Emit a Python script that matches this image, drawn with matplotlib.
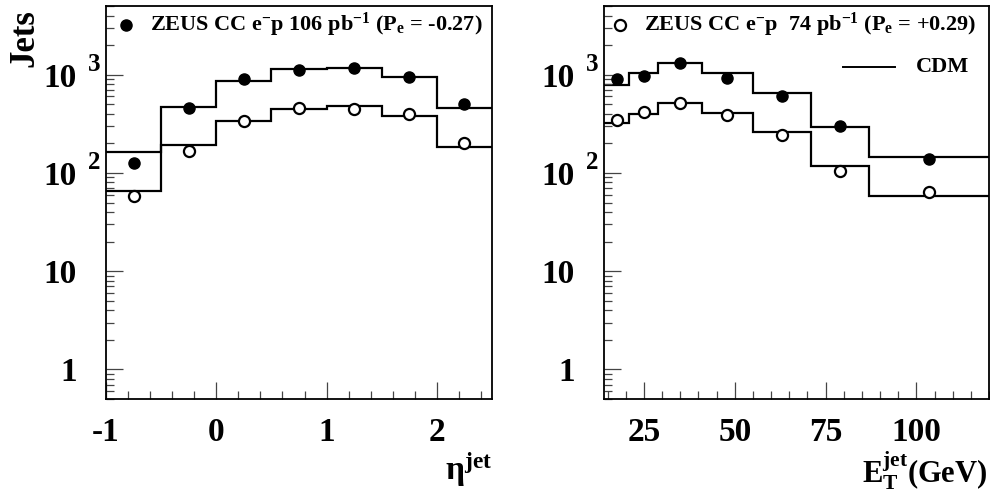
import matplotlib
matplotlib.use('Agg')
import matplotlib.pyplot as plt
import matplotlib.transforms as mtransforms
from matplotlib.ticker import MultipleLocator, LogLocator, NullFormatter, FixedLocator
import numpy as np

plt.rcParams['font.family'] = ['Liberation Serif', 'DejaVu Serif']
plt.rcParams['font.weight'] = 'bold'
plt.rcParams['mathtext.fontset'] = 'custom'
plt.rcParams['mathtext.rm'] = 'Liberation Serif'
plt.rcParams['mathtext.bf'] = 'Liberation Serif:bold'
plt.rcParams['mathtext.it'] = 'Liberation Serif:italic'
plt.rcParams['mathtext.default'] = 'bf'

# ---------- data: eta^jet
eta_edges = [-1.0, -0.5, 0.0, 0.5, 1.0, 1.5, 2.0, 2.5]
eta_centers = [-0.75, -0.25, 0.25, 0.75, 1.25, 1.75, 2.25]
eta_em_data = [125, 463, 912, 1127, 1181, 955, 508]      # P = -0.27 (filled)
eta_ep_data = [58, 169, 334, 459, 452, 402, 202]         # P = +0.29 (open)
eta_em_cdm = [162, 474, 869, 1153, 1181, 955, 459]
eta_ep_cdm = [66, 191, 341, 452, 477, 377, 183]

# ---------- data: E_T^jet
et_edges = [14, 21, 29, 41, 55, 71, 87, 120]
et_centers = [17.5, 25, 35, 48, 63, 79, 103.5]
et_em_data = [912, 979, 1328, 934, 613, 299, 140]
et_ep_data = [344, 414, 517, 386, 246, 104, 64]
et_em_cdm = [794, 1029, 1328, 1050, 653, 292, 146]
et_ep_cdm = [323, 402, 517, 408, 259, 117, 58]

y_ticks = [1, 10, 100, 1000]
y_ticklabels = ['1', '10', '10', '10']
y_exponents = {100: '2', 1000: '3'}

fig = plt.figure(figsize=(9.9, 4.96), dpi=100)
ax1 = fig.add_axes([106 / 990, 97 / 496, 386 / 990, 393 / 496])
ax2 = fig.add_axes([604 / 990, 97 / 496, 385 / 990, 393 / 496])


def style_axes(ax):
    ax.set_yscale('log')
    ax.set_ylim(0.5, 5000)
    ax.yaxis.set_major_locator(FixedLocator(y_ticks))
    ax.set_yticklabels(y_ticklabels)
    ax.yaxis.set_minor_locator(LogLocator(base=10, subs=np.arange(2, 10)))
    ax.yaxis.set_minor_formatter(NullFormatter())
    ax.tick_params(which='both', direction='in', top=False, right=False,
                   color='#444444', width=0.9, labelsize=24)
    ax.tick_params(which='major', length=12)
    ax.tick_params(which='minor', length=6)
    ax.tick_params(axis='y', which='major', pad=21)
    ax.tick_params(axis='x', which='major', pad=13)
    for sp in ax.spines.values():
        sp.set_linewidth(1.3)
    trans = mtransforms.blended_transform_factory(ax.transAxes, ax.transData)
    for val, ex in y_exponents.items():
        ax.text(-0.047, val * 1.28, ex, transform=trans, ha='left', va='center',
                fontsize=18, fontweight='bold')


def draw_panel(ax, edges, centers, em_data, ep_data, em_cdm, ep_cdm):
    ax.stairs(em_cdm, edges, baseline=None, color='k', lw=1.6)
    ax.stairs(ep_cdm, edges, baseline=None, color='k', lw=1.6)
    ax.plot(centers, em_data, 'o', color='k', ms=8, ls='none')
    ax.plot(centers, ep_data, 'o', mfc='white', mec='k', mew=1.6, ms=8, ls='none')


# ---------- left panel
draw_panel(ax1, eta_edges, eta_centers, eta_em_data, eta_ep_data, eta_em_cdm, eta_ep_cdm)
ax1.set_xlim(-1, 2.5)
ax1.xaxis.set_major_locator(MultipleLocator(1))
ax1.xaxis.set_minor_locator(MultipleLocator(0.2))
style_axes(ax1)
ax1.set_xticks([-1, 0, 1, 2])
ax1.set_xticklabels(['-1', '0', '1', '2'])
ax1.plot([0.052], [0.952], 'o', color='k', ms=8, transform=ax1.transAxes)
ax1.text(0.113, 0.952, r'ZEUS CC e$^{-}$p 106 pb$^{-1}$ (P$_{e}$ = -0.27)',
         transform=ax1.transAxes, ha='left', va='center', fontsize=16, fontweight='bold')
ax1.text(1.0, -0.205, r'$\mathrm{\eta}^{jet}$', transform=ax1.transAxes,
         ha='right', va='baseline', fontsize=24)

# ---------- right panel
draw_panel(ax2, et_edges, et_centers, et_em_data, et_ep_data, et_em_cdm, et_ep_cdm)
ax2.set_xlim(14, 120)
ax2.xaxis.set_major_locator(MultipleLocator(25))
ax2.xaxis.set_minor_locator(MultipleLocator(5))
style_axes(ax2)
ax2.set_xticks([25, 50, 75, 100])
ax2.set_xticklabels(['25', '50', '75', '100'])
ax2.plot([0.042], [0.952], 'o', mfc='white', mec='k', mew=1.6, ms=8,
         transform=ax2.transAxes)
ax2.text(0.105, 0.952, r'ZEUS CC e$^{-}$p  74 pb$^{-1}$ (P$_{e}$ = +0.29)',
         transform=ax2.transAxes, ha='left', va='center', fontsize=16, fontweight='bold')
ax2.plot([0.62, 0.755], [0.846, 0.846], color='k', lw=1.4, transform=ax2.transAxes)
ax2.text(0.81, 0.846, 'CDM', transform=ax2.transAxes, ha='left', va='center',
         fontsize=16, fontweight='bold')
ax2.text(0.995, -0.212, r'E$_{T}^{jet}$(GeV)', transform=ax2.transAxes,
         ha='right', va='baseline', fontsize=22, fontweight='bold')

fig.text(0.025, 0.982, 'Jets', rotation=90, ha='center', va='top',
         fontsize=25, fontweight='bold')

fig.savefig('out.png', dpi=100)
